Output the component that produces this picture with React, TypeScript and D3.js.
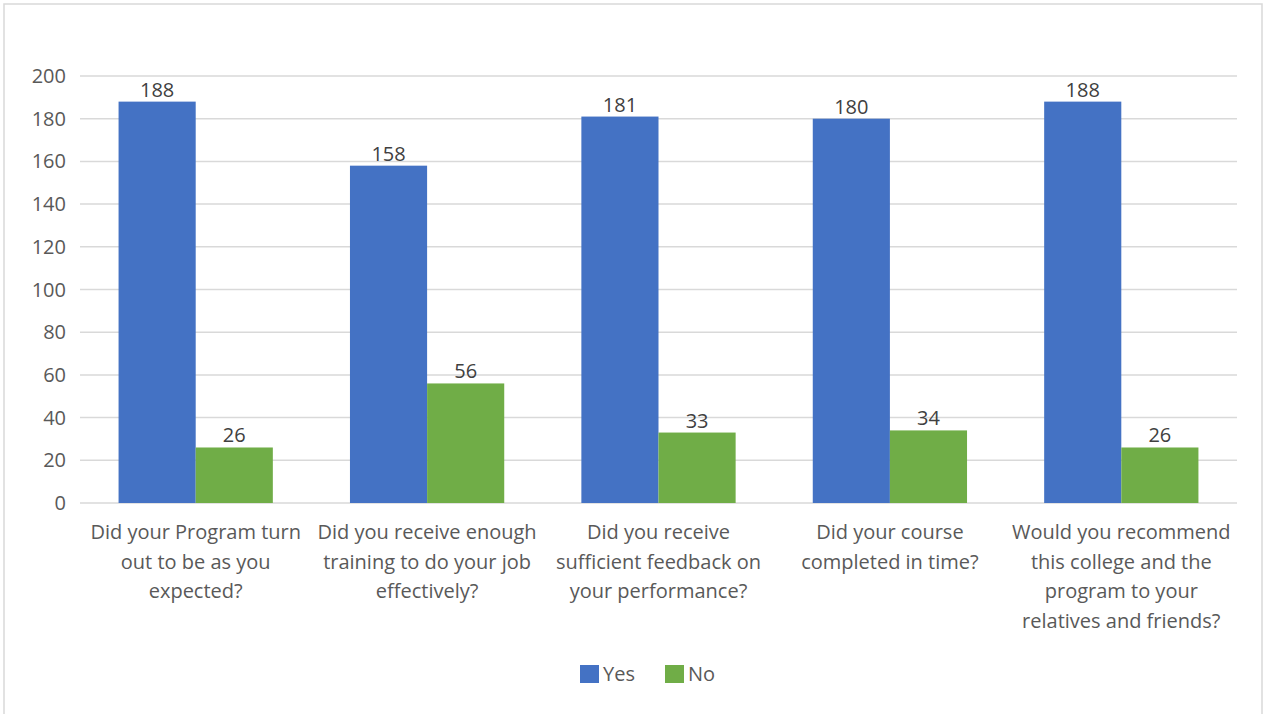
import React from "react";
import * as d3 from "d3";

const categories = [
  "Did your Program turn out to be as you expected?",
  "Did you receive enough training to do your job effectively?",
  "Did you receive sufficient feedback on your performance?",
  "Did your course completed in time?",
  "Would you recommend this college and the program to your relatives and friends?",
];
const categoryLines = [
  ["Did your Program turn", "out to be as you", "expected?"],
  ["Did you receive enough", "training to do your job", "effectively?"],
  ["Did you receive", "sufficient feedback on", "your performance?"],
  ["Did your course", "completed in time?"],
  ["Would you recommend", "this college and the", "program to your", "relatives and friends?"],
];
const yesValues = [188, 158, 181, 180, 188];
const noValues = [26, 56, 33, 34, 26];
const seriesNames = ["Yes", "No"];
const seriesColors = ["#4472C4", "#70AD47"];
const yTicks = [0, 20, 40, 60, 80, 100, 120, 140, 160, 180, 200];

const W = 1263;
const H = 714;
const FONT = "'Open Sans', 'Noto Sans', sans-serif";
const FS = 20;

export default function App() {
  const left = 80, right = 1237, top = 76, bottom = 503;
  const x0 = d3.scaleBand<number>().domain(d3.range(categories.length)).range([left, right]).paddingInner(0).paddingOuter(0);
  const inner = x0.bandwidth();
  const groupW = inner / 1.5;
  const x1 = d3.scaleBand<number>().domain([0, 1]).range([0, groupW]).padding(0);
  const y = d3.scaleLinear().domain([0, 200]).range([bottom, top]);
  const series = [yesValues, noValues];

  return (
    <svg width={W} height={H} style={{ position: "absolute", left: 0, top: 0, background: "#fff" }} fontFamily={FONT}>
      <rect x={4} y={4} width={1258} height={716} fill="#fff" stroke="#d9d9d9" strokeWidth={1.5} />
      {yTicks.map((t) => (
        <g key={t}>
          <line x1={left} x2={right} y1={y(t)} y2={y(t)} stroke="#d9d9d9" strokeWidth={1.5} />
          <text x={66} y={y(t)} dy="0.35em" textAnchor="end" fontSize={FS} fill="#595959">{t}</text>
        </g>
      ))}
      {categories.map((c, i) => {
        const gx = (x0(i) as number) + (inner - groupW) / 2;
        return (
          <g key={c}>
            {series.map((vals, s) => {
              const bx = gx + (x1(s) as number);
              const bw = x1.bandwidth();
              return (
                <g key={s}>
                  <rect x={bx} y={y(vals[i])} width={bw} height={y(0) - y(vals[i])} fill={seriesColors[s]} />
                  <text x={bx + bw / 2} y={y(vals[i]) - 5} textAnchor="middle" fontSize={FS} fill="#404040">{vals[i]}</text>
                </g>
              );
            })}
            {categoryLines[i].map((ln, k) => (
              <text key={k} x={(x0(i) as number) + inner / 2} y={539 + k * 29.5} textAnchor="middle" fontSize={FS} fill="#595959">{ln}</text>
            ))}
          </g>
        );
      })}
      {seriesNames.map((n, s) => {
        const lx = [580, 665][s];
        return (
          <g key={n}>
            <rect x={lx} y={665} width={19} height={18} fill={seriesColors[s]} />
            <text x={lx + 23} y={674} dy="0.35em" fontSize={FS} fill="#595959">{n}</text>
          </g>
        );
      })}
    </svg>
  );
}
